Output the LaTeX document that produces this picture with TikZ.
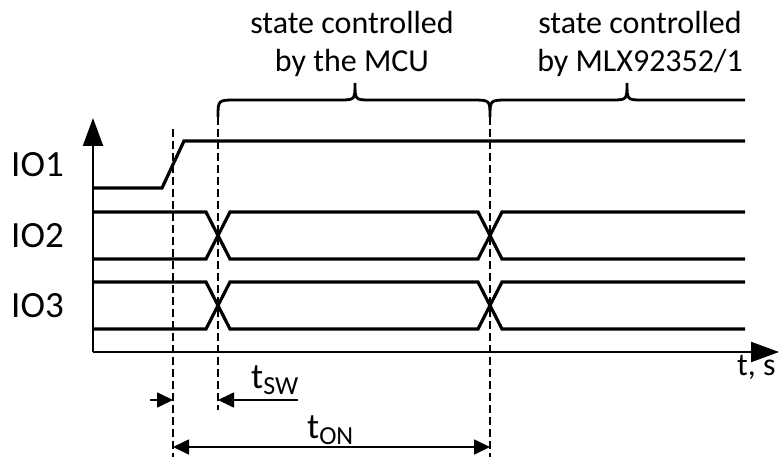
\documentclass[tikz,border=0pt]{standalone}
\usepackage{fontspec}
\setmainfont{Carlito}
\usetikzlibrary{arrows.meta}

\newcommand{\timesub}[1]{\raisebox{-6pt}{\fontsize{26}{28}\selectfont #1}}

\begin{document}
\begin{tikzpicture}[x=1pt,y=-1pt]

    % Define styles
    \tikzset{
        signal line/.style={line width=3.2pt, draw=black},
        axis line/.style={line width=2.2pt, -{Triangle[length=28pt,width=20pt]}},
        guide line/.style={line width=1.8pt, dash pattern=on 8pt off 4pt},
        dim arrow/.style={line width=1.7pt, -{Triangle[length=16pt,width=15pt]}},
        dim both/.style={line width=1.7pt, {Triangle[length=16pt,width=15pt]}-{Triangle[length=16pt,width=15pt]}},
        brace line/.style={line width=2.8pt},
        io label/.style={font=\fontsize{37}{40}\selectfont, inner sep=0pt, anchor=east},
        state label/.style={font=\fontsize{32}{38}\selectfont, align=center, inner sep=0pt, anchor=north},
        time label/.style={font=\fontsize{36}{38}\selectfont, inner sep=0pt, anchor=base west}
    }

    \useasboundingbox (0,0) rectangle (779,457);

    % Define coordinates for the axes
    \coordinate (origin) at (93,352);
    \coordinate (y-end) at (93,118);
    \coordinate (x-end) at (779,352);

    % Define coordinates for the guide lines
    \coordinate (start-top) at (173,129);
    \coordinate (start-bot) at (173,457);
    \coordinate (sw-top) at (218,117);
    \coordinate (sw-bot) at (218,410);
    \coordinate (on-top) at (490,117);
    \coordinate (on-bot) at (490,457);

    % Draw the axes
    \draw[axis line] (origin) -- (y-end);
    \draw[axis line] (origin) -- (x-end);

    % IO1 rising edge
    \draw[signal line] (93,188) -- (162,188) -- (184,141) -- (745,141);

    % IO2 and IO3 crossing at both switch points
    \foreach \hi/\lo in {212/259, 282/329} {
        \draw[signal line] (93,\hi) -- (206,\hi) -- (230,\lo) -- (478,\lo) -- (502,\hi) -- (745,\hi);
        \draw[signal line] (93,\lo) -- (206,\lo) -- (230,\hi) -- (478,\hi) -- (502,\lo) -- (745,\lo);
    }

    % Draw the dashed guide lines
    \draw[guide line] (start-top) -- (start-bot);
    \draw[guide line] (sw-top) -- (sw-bot);
    \draw[guide line] (on-top) -- (on-bot);

    % Braces over the two phases
    \draw[brace line] (sw-top) .. controls (218,100) .. (236,100) -- (339,100)
        .. controls (355,100) .. (355,83) .. controls (355,100) .. (371,100) -- (472,100)
        .. controls (490,100) .. (on-top) .. controls (490,100) .. (508,100) -- (611,100)
        .. controls (627,100) .. (627,83) .. controls (627,100) .. (643,100) -- (745,100);

    % Signal labels
    \node[io label] (io1) at (64,164.5) {IO1};
    \node[io label] (io2) at (64,235.5) {IO2};
    \node[io label] (io3) at (64,305.5) {IO3};

    % Phase labels
    \node[state label] (mcu) at (352,11) {state controlled\\by the MCU};
    \node[state label] (mlx) at (640,11) {state controlled\\by MLX92352/1};

    % t_SW dimension
    \coordinate (sw-left) at (150,400);
    \coordinate (sw-right) at (298,400);
    \draw[dim arrow] (sw-left) -- (start-bot |- sw-left);
    \draw[dim arrow] (sw-right) -- (sw-bot |- sw-right);
    \node[time label] (tsw) at (251,388) {t\timesub{SW}};

    % t_ON dimension
    \coordinate (on-left) at (173,447);
    \draw[dim both] (on-left) -- (on-bot |- on-left);
    \node[time label] (ton) at (307,438) {t\timesub{ON}};

    % Time axis label
    \node[time label, font=\fontsize{32}{34}\selectfont] (tunit) at (737,375) {t, s};

\end{tikzpicture}
\end{document}
